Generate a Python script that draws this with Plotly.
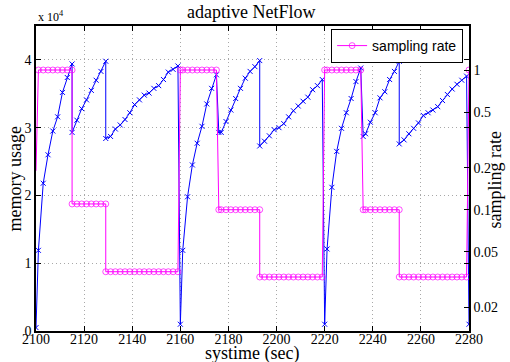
import plotly.graph_objects as go

systime = [2100, 2101, 2103, 2105, 2107, 2109, 2111, 2113, 2115,
           2115, 2117, 2119, 2121, 2123, 2125, 2127, 2129,
           2129, 2131, 2133, 2135, 2137, 2139, 2141, 2143, 2145, 2147, 2149, 2151, 2153, 2155, 2157, 2159,
           2160, 2161, 2163, 2165, 2167, 2169, 2171, 2173, 2175,
           2176, 2177, 2179, 2181, 2183, 2185, 2187, 2189, 2191, 2193,
           2193, 2195, 2197, 2199, 2201, 2203, 2205, 2207, 2209, 2211, 2213, 2215, 2217, 2219,
           2220, 2221, 2223, 2225, 2227, 2229, 2231, 2233, 2235,
           2236, 2237, 2239, 2241, 2243, 2245, 2247, 2249, 2251,
           2251, 2253, 2255, 2257, 2259, 2261, 2263, 2265, 2267, 2269, 2271, 2273, 2275, 2277, 2279,
           2280]

memory_usage = [500, 11900, 21800, 26000, 29500, 31600, 35200, 37400, 39400,
                29300, 31100, 32800, 34100, 35500, 37000, 38300, 39800,
                28400, 28700, 29800, 30400, 31200, 32200, 33400, 34100, 34800, 35100, 35800, 36200, 37100, 38200, 38600, 39100,
                1000, 11900, 19800, 24500, 27700, 30200, 33500, 35800, 37800,
                29300, 29300, 30900, 32600, 34300, 35800, 37300, 38300, 39000, 39900,
                27300, 28000, 28800, 29700, 30000, 30600, 31600, 32500, 33200, 33900, 34500, 35600, 36200, 37100,
                1000, 12100, 21200, 26500, 29900, 32200, 34300, 36800, 38800,
                28700, 29100, 30800, 32200, 34400, 35300, 37100, 38300, 39800,
                27600, 28200, 29100, 29900, 30700, 31800, 32200, 32600, 33100, 34000, 34900, 35700, 36400, 37000, 37600,
                1000]

sampling_rate = [0.19, 1, 1, 1, 1, 1, 1, 1, 1,
                 0.11, 0.11, 0.11, 0.11, 0.11, 0.11, 0.11, 0.11,
                 0.036, 0.036, 0.036, 0.036, 0.036, 0.036, 0.036, 0.036, 0.036, 0.036, 0.036, 0.036, 0.036, 0.036, 0.036, 0.036,
                 1, 1, 1, 1, 1, 1, 1, 1, 1,
                 0.1, 0.1, 0.1, 0.1, 0.1, 0.1, 0.1, 0.1, 0.1, 0.1,
                 0.033, 0.033, 0.033, 0.033, 0.033, 0.033, 0.033, 0.033, 0.033, 0.033, 0.033, 0.033, 0.033, 0.033,
                 1, 1, 1, 1, 1, 1, 1, 1, 1,
                 0.1, 0.1, 0.1, 0.1, 0.1, 0.1, 0.1, 0.1, 0.1,
                 0.033, 0.033, 0.033, 0.033, 0.033, 0.033, 0.033, 0.033, 0.033, 0.033, 0.033, 0.033, 0.033, 0.033, 0.033,
                 1]

x_ticks = [2100, 2120, 2140, 2160, 2180, 2200, 2220, 2240, 2260, 2280]
mem_ticks = [0, 10000, 20000, 30000, 40000]
mem_tick_text = ["0", "1", "2", "3", "4"]
rate_ticks = [0.02, 0.05, 0.1, 0.2, 0.5, 1]
rate_tick_text = ["0.02", "0.05", "0.1", "0.2", "0.5", "1"]

SERIF = "Liberation Serif"
L, R, T, B = 36, 477, 26, 331


def px(xp):
    return (xp - L) / (R - L)


def py(yp):
    return (B - yp) / (B - T)


# first rate sample sits on the left frame; its marker is hidden there
rate_marker_size = [0] + [6] * (len(systime) - 1)

fig = go.Figure()
fig.add_trace(go.Scatter(
    x=systime, y=memory_usage, mode="lines+markers", name="memory usage",
    showlegend=False, yaxis="y",
    line=dict(color="#0000ff", width=1),
    marker=dict(symbol="x-thin", size=5, line=dict(color="#0000ff", width=1), color="#0000ff"),
))
fig.add_trace(go.Scatter(
    x=systime, y=sampling_rate, mode="lines+markers", name="sampling rate",
    yaxis="y2",
    line=dict(color="#ff00ff", width=1),
    marker=dict(symbol="circle-open", size=rate_marker_size, line=dict(color="#ff00ff", width=1), color="#ff00ff"),
))

axis_common = dict(showline=True, linecolor="black", linewidth=1.5,
                   ticks="inside", ticklen=5, tickcolor="black",
                   tickfont=dict(family=SERIF, size=14, color="black"), zeroline=False)
grid_common = dict(showgrid=True, gridcolor="#a8a8a8", griddash="1px,3px", gridwidth=1)

fig.update_layout(
    width=510, height=362,
    margin=dict(l=L, r=510 - R, t=T, b=362 - B),
    paper_bgcolor="white", plot_bgcolor="white",
    xaxis=dict(range=[2100, 2280], tickvals=x_ticks, mirror="ticks", ticklabelstandoff=-6,
               **grid_common, **axis_common),
    yaxis=dict(range=[0, 45000], tickvals=mem_ticks, ticktext=mem_tick_text, mirror="ticks",
               **grid_common, **axis_common),
    yaxis2=dict(type="log", range=[-1.868, 0.315], overlaying="y", side="right",
                tickvals=rate_ticks, ticktext=rate_tick_text, showgrid=False, **axis_common),
    legend=dict(x=px(471), y=py(29), xanchor="right", yanchor="top", itemwidth=30,
                bgcolor="white", bordercolor="black", borderwidth=1,
                font=dict(family="Liberation Sans", size=14, color="black")),
    showlegend=True,
)

fig.add_annotation(text="adaptive NetFlow", x=px(255), y=py(12), xref="paper", yref="paper",
                   showarrow=False, font=dict(family=SERIF, size=18, color="black"),
                   xanchor="center", yanchor="middle")
fig.add_annotation(text="x 10<sup>4</sup>", x=px(36), y=py(17), xref="paper", yref="paper",
                   showarrow=False, font=dict(family=SERIF, size=12, color="black"),
                   xanchor="left", yanchor="middle")
fig.add_annotation(text="systime (sec)", x=px(256), y=py(353), xref="paper", yref="paper",
                   showarrow=False, font=dict(family=SERIF, size=18, color="black"),
                   xanchor="center", yanchor="middle")
fig.add_annotation(text="memory usage", x=px(15), y=py(179), xref="paper", yref="paper",
                   showarrow=False, textangle=-90, font=dict(family=SERIF, size=18, color="black"),
                   xanchor="center", yanchor="middle")
fig.add_annotation(text="sampling rate", x=px(503), y=py(180), xref="paper", yref="paper",
                   showarrow=False, textangle=-90, font=dict(family=SERIF, size=18, color="black"),
                   xanchor="center", yanchor="middle")

fig.write_html("out.html")
